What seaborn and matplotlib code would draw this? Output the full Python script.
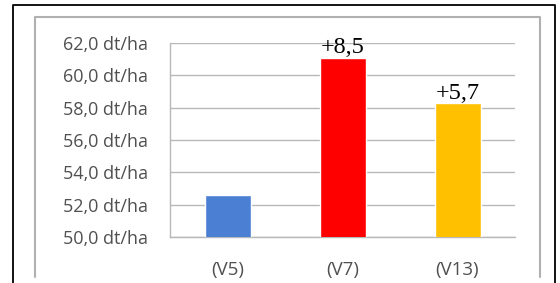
import matplotlib
matplotlib.use('Agg')
import matplotlib.pyplot as plt
import seaborn as sns
import pandas as pd
from matplotlib.lines import Line2D

# datos del gráfico
variantes = ['(V5)', '(V7)', '(V13)']
rendimiento = [52.6, 61.1, 58.3]
diferencias = ['', '+8,5', '+5,7']
colores = ['#4a7fd4', '#ff0000', '#ffc000']
ticks_y = [50, 52, 54, 56, 58, 60, 62]

sns.set_style('white')
plt.rcParams['font.family'] = ['Open Sans', 'DejaVu Sans']

W, H = 560, 283
fig = plt.figure(figsize=(W / 100, H / 100), dpi=100)
ax = fig.add_axes([170 / W, 1 - 237 / H, (515 - 170) / W, (237 - 43) / H])

df = pd.DataFrame({'variante': variantes, 'rendimiento': rendimiento})
sns.barplot(data=df, x='variante', y='rendimiento', hue='variante', palette=colores,
            width=0.4, saturation=1, legend=False, ax=ax, zorder=3)

ax.set_ylim(50, 62)
ax.set_xlim(-0.5, 2.5)
ax.set_yticks(ticks_y)
ax.set_yticklabels([f'{v:.1f}'.replace('.', ',') + ' dt/ha' for v in ticks_y])
ax.yaxis.grid(True, color='#b8b8b8', linewidth=1.0, zorder=0)
ax.set_xlabel('')
ax.set_ylabel('')

for s in ['top', 'right']:
    ax.spines[s].set_visible(False)
for s in ['left', 'bottom']:
    ax.spines[s].set_color('#b8b8b8')
    ax.spines[s].set_linewidth(1.0)

# marcas del eje x entre categorias
ax.set_xticks([0, 1, 2])
ax.set_xticks([-0.5, 0.5, 1.5, 2.5], minor=True)
ax.tick_params(axis='x', which='major', length=0, labelsize=13.5, labelcolor='#505050', pad=17)
ax.tick_params(axis='x', which='minor', length=4, color='#b8b8b8', direction='out')
ax.tick_params(axis='y', length=5, color='#b8b8b8', labelsize=13, labelcolor='#505050', pad=11)

# etiquetas de diferencia
for i, (v, t) in enumerate(zip(rendimiento, diferencias)):
    if t:
        ax.text(i, v - 0.05, t, ha='center', va='bottom', fontsize=17.5,
                family='Liberation Serif', color='black', zorder=4)

# marcos exteriores
def linea(xs, ys, color, lw):
    fig.add_artist(Line2D([x / W for x in xs], [1 - y / H for y in ys],
                          color=color, linewidth=lw, transform=fig.transFigure))

linea([35, 35, 540, 540], [277, 17, 17, 277], '#b0b0b0', 1.5)
linea([13, 13, 555, 555], [283, 5, 5, 283], 'black', 1.3)

fig.savefig('out.png', dpi=100)
